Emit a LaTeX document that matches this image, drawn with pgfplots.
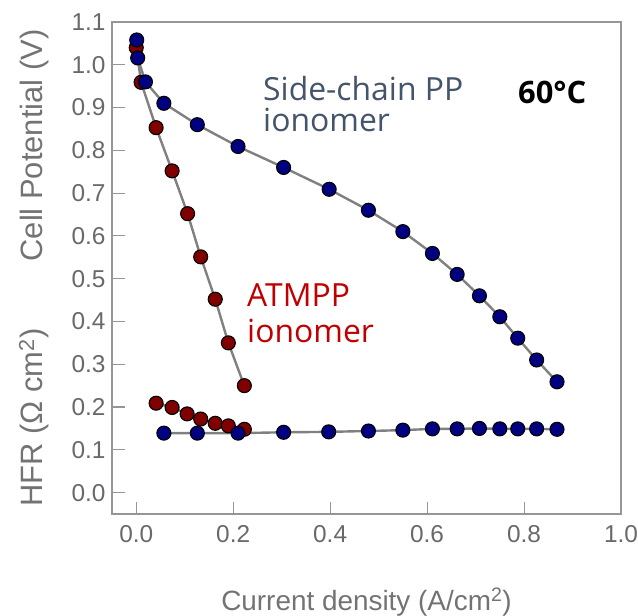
\documentclass[border=0pt]{standalone}
\usepackage{pgfplots}
\pgfplotsset{compat=1.18}
\usepackage{fontspec}
\setmainfont{Liberation Sans}
\newfontfamily\osans{Open Sans}

\definecolor{framegray}{RGB}{150,150,150}
\definecolor{tickgray}{RGB}{105,105,105}
\definecolor{labelgray}{RGB}{115,115,115}
\definecolor{linegray}{RGB}{128,128,128}
\definecolor{ppblue}{RGB}{0,0,128}
\definecolor{atred}{RGB}{128,0,0}
\definecolor{slate}{RGB}{68,84,106}
\definecolor{textred}{RGB}{192,0,0}

% Polarization curves: current density (A/cm^2) vs cell potential (V)
\pgfplotstableread{
x      y
0.000  1.040
0.010  0.959
0.041  0.853
0.074  0.752
0.106  0.652
0.133  0.551
0.163  0.452
0.190  0.350
0.223  0.250
}\atmppIV
\pgfplotstableread{
x      y
0.001  1.058
0.003  1.016
0.019  0.960
0.057  0.910
0.126  0.860
0.210  0.809
0.304  0.760
0.398  0.709
0.479  0.660
0.550  0.610
0.611  0.559
0.662  0.510
0.708  0.460
0.750  0.411
0.787  0.361
0.826  0.310
0.868  0.259
}\ppIV
% High-frequency resistance (Ohm cm^2)
\pgfplotstableread{
x      y
0.041  0.209
0.074  0.199
0.105  0.184
0.133  0.172
0.163  0.162
0.190  0.156
0.223  0.148
}\atmppHFR
\pgfplotstableread{
x      y
0.057  0.139
0.126  0.139
0.210  0.139
0.304  0.141
0.397  0.142
0.479  0.144
0.550  0.146
0.611  0.149
0.662  0.149
0.708  0.150
0.750  0.149
0.787  0.149
0.826  0.149
0.868  0.148
}\ppHFR

\begin{document}
\begin{tikzpicture}
\useasboundingbox (-112bp,-102bp) rectangle (526bp,514bp);
\begin{axis}[
  at={(0,0)}, anchor=south west,
  scale only axis, width=509bp, height=492bp,
  xmin=-0.05, xmax=1.0, ymin=-0.05, ymax=1.1,
  xtick={0,0.2,0.4,0.6,0.8,1.0},
  ytick={0,0.1,0.2,0.3,0.4,0.5,0.6,0.7,0.8,0.9,1.0,1.1},
  /pgf/number format/.cd, fixed, fixed zerofill, precision=1, assume math mode=true,
  /pgfplots/.cd,
  xtick pos=bottom, ytick pos=left,
  tick align=inside, major tick length=12.5bp,
  axis line style={draw=framegray, line width=1.1bp},
  tick style={draw=framegray, line width=1.1bp},
  ticklabel style={font=\fontsize{24.5}{24.5}\selectfont, text=tickgray},
  yticklabel style={xshift=-3bp},
  xticklabel style={yshift=-8bp},
  clip=false,
  every axis plot/.append style={draw=linegray, line width=2.4bp},
]
\addplot[mark=*, mark size=7bp, mark options={solid, fill=atred, draw=black, line width=1.1bp}] table[x=x,y=y] {\atmppIV};
\addplot[mark=*, mark size=7bp, mark options={solid, fill=atred, draw=black, line width=1.1bp}] table[x=x,y=y] {\atmppHFR};
\addplot[mark=*, mark size=7bp, mark options={solid, fill=ppblue, draw=black, line width=1.1bp}] table[x=x,y=y] {\ppIV};
\addplot[mark=*, mark size=7bp, mark options={solid, fill=ppblue, draw=black, line width=1.1bp}] table[x=x,y=y] {\ppHFR};

% axis titles
\node[anchor=base, text=labelgray, font=\fontsize{28}{28}\selectfont]
  at ([shift={(0bp,-96bp)}]rel axis cs:0.5,0) {Current density (A/cm\textsuperscript{2})};
\node[anchor=base, rotate=90, text=labelgray, font=\fontsize{31}{31}\selectfont]
  at ([shift={(-69bp,368.5bp)}]rel axis cs:0,0) {Cell Potential (V)};
\node[anchor=base, rotate=90, text=labelgray, font=\fontsize{31}{31}\selectfont]
  at ([shift={(-69bp,96.5bp)}]rel axis cs:0,0) {HFR (Ω cm\textsuperscript{2})};

% annotations
\node[anchor=base west, inner sep=0pt, text=slate, font=\osans\fontsize{32}{32}\selectfont]
  at ([shift={(151bp,413bp)}]rel axis cs:0,0) {Side-chain PP};
\node[anchor=base west, inner sep=0pt, text=slate, font=\osans\fontsize{32}{32}\selectfont]
  at ([shift={(151bp,382bp)}]rel axis cs:0,0) {ionomer};
\node[anchor=base west, inner sep=0pt, text=black, font=\osans\bfseries\fontsize{31}{31}\selectfont]
  at ([shift={(406bp,410bp)}]rel axis cs:0,0) {60°C};
\node[anchor=base west, inner sep=0pt, text=textred, font=\osans\fontsize{32}{32}\selectfont]
  at ([shift={(135bp,207bp)}]rel axis cs:0,0) {ATMPP};
\node[anchor=base west, inner sep=0pt, text=textred, font=\osans\fontsize{32}{32}\selectfont]
  at ([shift={(135bp,171bp)}]rel axis cs:0,0) {ionomer};
\end{axis}
\end{tikzpicture}
\end{document}
